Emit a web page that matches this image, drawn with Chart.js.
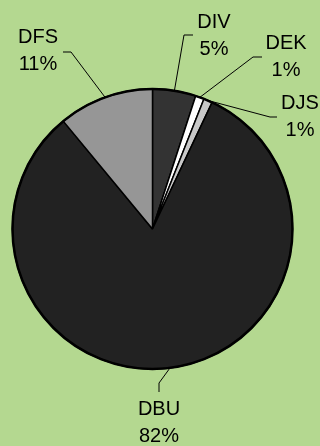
<!DOCTYPE html>
<html>
<head>
<meta charset="utf-8">
<script src="https://cdn.jsdelivr.net/npm/chart.js@4/dist/chart.umd.min.js"></script>
<style>
  html, body { margin: 0; padding: 0; background: #b4d890; }
  #wrap { width: 320px; height: 446px; }
</style>
</head>
<body>
<div id="wrap"><canvas id="pie" width="320" height="446"></canvas></div>
<script>
// Slice names and shares (percent), clockwise from 12 o'clock
const categories = ['DIV', 'DEK', 'DJS', 'DBU', 'DFS'];
const shares = [5, 1, 1, 82, 11];
const sliceColors = ['#333333', '#ffffff', '#c8c8c8', '#222222', '#969696'];

// Where each label sits: elbow of the leader line, end of the leader line, text centre
const labelLayout = {
  DIV: { elbow: [184, 35], end: [193, 35], text: [214, 22] },
  DEK: { elbow: [253, 57], end: [262, 57], text: [286, 43] },
  DJS: { elbow: [270, 117], end: [277, 117], text: [300, 103] },
  DBU: { elbow: [159, 383], end: [159, 392], text: [159, 409] },
  DFS: { elbow: [71, 52], end: [63, 52], text: [38, 37] }
};

const outsideLabels = {
  id: 'outsideLabels',
  afterDatasetsDraw(chart) {
    const ctx = chart.ctx;
    const meta = chart.getDatasetMeta(0);
    const data = chart.data.datasets[0].data;
    ctx.save();
    // heavier outer rim
    const first = meta.data[0];
    ctx.beginPath();
    ctx.arc(first.x, first.y, first.outerRadius, 0, Math.PI * 2);
    ctx.lineWidth = 2.5;
    ctx.strokeStyle = '#000';
    ctx.stroke();

    ctx.font = '20px "Liberation Sans", Arial, sans-serif';
    ctx.fillStyle = '#000';
    ctx.textAlign = 'center';
    ctx.textBaseline = 'middle';
    meta.data.forEach((arc, i) => {
      const name = chart.data.labels[i];
      const lay = labelLayout[name];
      const mid = (arc.startAngle + arc.endAngle) / 2;
      const sx = arc.x + Math.cos(mid) * arc.outerRadius;
      const sy = arc.y + Math.sin(mid) * arc.outerRadius;
      ctx.beginPath();
      ctx.moveTo(sx, sy);
      ctx.lineTo(lay.elbow[0], lay.elbow[1]);
      ctx.lineTo(lay.end[0], lay.end[1]);
      ctx.lineWidth = 1;
      ctx.strokeStyle = '#000';
      ctx.stroke();
      ctx.fillText(name, lay.text[0], lay.text[1]);
      ctx.fillText(Math.round(data[i]) + '%', lay.text[0], lay.text[1] + 27);
    });
    ctx.restore();
  }
};

new Chart(document.getElementById('pie'), {
  type: 'pie',
  data: {
    labels: categories,
    datasets: [{
      data: shares,
      backgroundColor: sliceColors,
      borderColor: '#000000',
      borderWidth: 1.5
    }]
  },
  options: {
    responsive: false,
    animation: false,
    radius: 140,
    layout: { padding: { left: 0, right: 15, top: 12, bottom: 0 } },
    plugins: {
      legend: { display: false },
      tooltip: { enabled: false }
    }
  },
  plugins: [outsideLabels]
});
</script>
</body>
</html>
